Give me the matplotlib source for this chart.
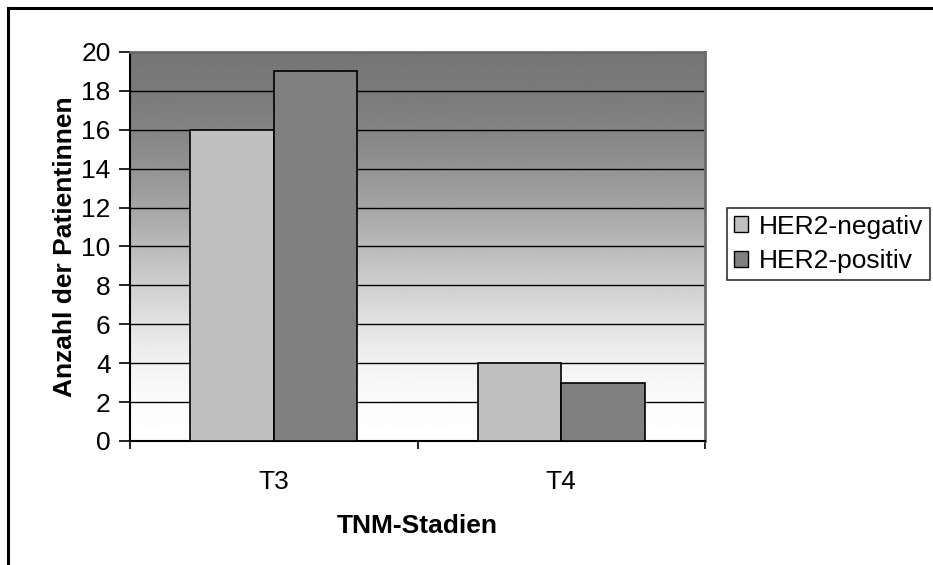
import numpy as np
import matplotlib
matplotlib.use("Agg")
import matplotlib.pyplot as plt
from matplotlib.lines import Line2D
from matplotlib.patches import Patch

plt.rcParams['font.family'] = ['Liberation Sans', 'DejaVu Sans']

categories = ["T3", "T4"]
her2_negativ = [16, 4]
her2_positiv = [19, 3]
series_labels = ["HER2-negativ", "HER2-positiv"]
y_ticks = [0, 2, 4, 6, 8, 10, 12, 14, 16, 18, 20]

FS = 19

fig = plt.figure(figsize=(9.33, 5.65), dpi=100)
ax = fig.add_axes([130 / 933, 1 - 441 / 565, 575 / 933, 389 / 565])

# vertical grey-to-white gradient behind the bars (value = 0 at bottom, 20 at top)
stops_y = [0, 2, 4, 6, 8, 10, 12, 14, 16, 18, 20]
stops_c = [0xff, 0xfc, 0xf2, 0xe2, 0xcf, 0xba, 0xa5, 0x93, 0x84, 0x7a, 0x76]
yy = np.linspace(0, 20, 400)
shade = np.interp(yy, stops_y, stops_c) / 255.0
grad = np.repeat(shade[:, None], 2, axis=1)
ax.imshow(grad, cmap="gray", vmin=0, vmax=1, origin="lower",
          extent=[-0.5, 1.5, 0, 20], aspect="auto", zorder=0, interpolation="bilinear")

x = np.arange(len(categories))
w = 0.29
ax.bar(x - w / 2, her2_negativ, w, color="#c0c0c0", edgecolor="black", linewidth=1.2,
       label=series_labels[0], zorder=3)
ax.bar(x + w / 2, her2_positiv, w, color="#808080", edgecolor="black", linewidth=1.2,
       label=series_labels[1], zorder=3)

ax.set_xlim(-0.5, 1.5)
ax.set_ylim(0, 20)
ax.set_yticks(y_ticks)
ax.set_yticklabels([str(t) for t in y_ticks], fontsize=FS)
ax.yaxis.grid(True, color="black", linewidth=1.0, zorder=1)
ax.set_axisbelow(True)

# category labels centred, ticks on the category boundaries
ax.set_xticks([-0.5, 0.5, 1.5])
ax.set_xticklabels([])
ax.set_xticks(x, minor=True)
ax.set_xticklabels(categories, minor=True, fontsize=FS)
ax.tick_params(axis="x", which="minor", length=0, pad=21)
ax.tick_params(axis="x", which="major", direction="out", length=6, width=1.2)
ax.tick_params(axis="y", direction="out", length=8, width=1.2, pad=6)

for side in ["left", "bottom"]:
    ax.spines[side].set_color("black")
    ax.spines[side].set_linewidth(1.5)
for side in ["top", "right"]:
    ax.spines[side].set_color("#6a6a6a")
    ax.spines[side].set_linewidth(2)

ax.set_ylabel("Anzahl der Patientinnen", fontsize=FS, fontweight="bold", labelpad=3)
ax.set_xlabel("TNM-Stadien", fontsize=FS, fontweight="bold", labelpad=14)

handles = [Patch(facecolor="#c0c0c0", edgecolor="black", linewidth=1.0),
           Patch(facecolor="#808080", edgecolor="black", linewidth=1.0)]
leg = fig.legend(handles, series_labels, loc="center left",
                 bbox_to_anchor=(727 / 933, 1 - 244 / 565), fontsize=FS,
                 frameon=True, fancybox=False, edgecolor="black",
                 handlelength=0.55, handleheight=0.55, handletextpad=0.4,
                 borderpad=0.25, labelspacing=0.4, borderaxespad=0)
leg.get_frame().set_linewidth(1.2)

# outer chart frame (top and left edges visible)
fig.add_artist(Line2D([8 / 933, 1.0], [1 - 7.5 / 565, 1 - 7.5 / 565],
                      color="black", linewidth=2.2, transform=fig.transFigure))
fig.add_artist(Line2D([8 / 933, 8 / 933], [0, 1 - 7.5 / 565],
                      color="black", linewidth=2.2, transform=fig.transFigure))

fig.savefig("out.png", dpi=100)
